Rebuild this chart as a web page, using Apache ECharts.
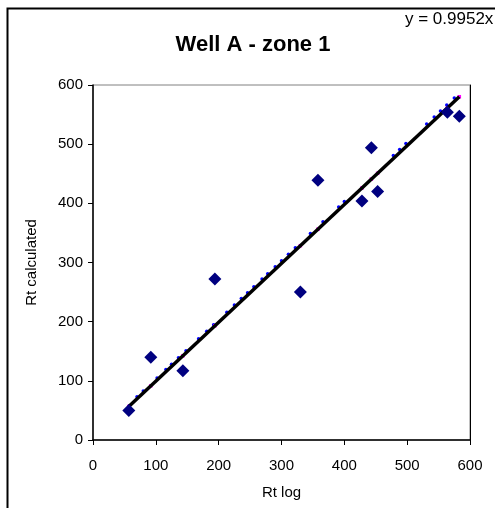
<!DOCTYPE html>
<html>
<head>
<meta charset="utf-8">
<script src="https://cdn.jsdelivr.net/npm/echarts@6/dist/echarts.min.js"></script>
<style>html,body{margin:0;padding:0;background:#fff}#c{width:495px;height:508px}</style>
</head>
<body>
<div id="c"></div>
<script>
var titleText = 'Well A - zone 1';
var xName = 'Rt log';
var yName = 'Rt calculated';
var eqText = 'y = 0.9952x';
var rtLog = [57, 92, 143, 194, 330, 358, 428, 443, 453, 564, 583];
var rtCalc = [50, 140, 117, 272, 250, 439, 404, 494, 420, 554, 547];
var fitX = [57, 92, 143, 194, 330, 358, 428, 443, 453, 564, 583];
var fitY = [56.7, 91.6, 142.3, 193.1, 328.4, 356.3, 425.9, 440.9, 450.8, 561.3, 580.2];
var dotX = [70, 80, 102, 116, 125, 136, 148, 168, 181, 192, 213, 225, 236, 246, 256, 269, 278, 290, 300, 311, 322, 346, 366, 391, 400, 478, 488, 498, 531, 543, 553, 563, 575];
var dotY = [73, 83, 105, 119, 128, 139, 151, 171, 184, 195, 216, 228, 239, 249, 259, 272, 281, 293, 303, 314, 325, 349, 369, 394, 403, 481, 491, 501, 534, 546, 556, 566, 578];
var trendX = [57, 583];
var trendY = [56.7, 580.2];
var xTicks = [0, 600, 100];
var yTicks = [0, 600, 100];

function pairs(a, b) { return a.map(function (v, i) { return [v, b[i]]; }); }

var chart = echarts.init(document.getElementById('c'), null, {renderer: 'canvas'});
var font = 'Arial, "Liberation Sans", sans-serif';
chart.setOption({
  animation: false,
  backgroundColor: '#fff',
  title: {
    text: titleText, left: 248, top: 29, textAlign: 'center',
    textStyle: {fontFamily: font, fontWeight: 'bold', fontSize: 22, color: '#000'}
  },
  grid: {left: 93, right: 25, top: 85, bottom: 68, show: true, borderColor: '#808080', borderWidth: 1},
  xAxis: {
    type: 'value', min: xTicks[0], max: xTicks[1], interval: xTicks[2],
    name: xName, nameLocation: 'middle', nameGap: 45,
    nameTextStyle: {fontFamily: font, fontSize: 15, color: '#000'},
    axisLine: {show: true, lineStyle: {color: '#000', width: 1.5}},
    axisTick: {show: true, length: 5, inside: false, lineStyle: {color: '#000'}},
    axisLabel: {fontFamily: font, fontSize: 15, color: '#000', margin: 18},
    splitLine: {show: false}
  },
  yAxis: [{
    type: 'value', min: yTicks[0], max: yTicks[1], interval: yTicks[2],
    name: yName, nameLocation: 'middle', nameGap: 54,
    nameTextStyle: {fontFamily: font, fontSize: 15, color: '#000'},
    axisLine: {show: true, lineStyle: {color: '#000', width: 1.5}},
    axisTick: {show: true, length: 5, inside: false, lineStyle: {color: '#000'}},
    axisLabel: {fontFamily: font, fontSize: 15, color: '#000', margin: 10},
    splitLine: {show: false}
  }, {
    type: 'value', position: 'right', min: yTicks[0], max: yTicks[1], interval: yTicks[2],
    axisLine: {show: true, lineStyle: {color: '#000', width: 1}},
    axisTick: {show: false}, axisLabel: {show: false}, splitLine: {show: false}
  }],
  graphic: [
    {type: 'polyline', shape: {points: [[7.5, 510], [7.5, 8.5], [497, 8.5]]}, style: {stroke: '#000', lineWidth: 2, fill: null}},
    {type: 'text', left: 405, top: 11, style: {text: eqText, font: '17px Arial, "Liberation Sans", sans-serif', fill: '#000'}}
  ],
  series: [
    {type: 'line', data: pairs(trendX, trendY), symbol: 'none', lineStyle: {color: '#000', width: 3.5}, z: 3},
    {type: 'scatter', data: pairs(dotX, dotY), symbol: 'circle', symbolSize: 3.5, itemStyle: {color: '#0000ff', opacity: 1}, z: 2},
    {type: 'scatter', data: pairs(fitX, fitY), symbol: 'rect', symbolSize: 3.5, itemStyle: {color: '#ff00ff', opacity: 1}, z: 2},
    {type: 'scatter', data: pairs(rtLog, rtCalc), symbol: 'diamond', symbolSize: [13, 13], itemStyle: {color: '#000080', opacity: 1}, z: 4}
  ]
});
</script>
</body>
</html>
